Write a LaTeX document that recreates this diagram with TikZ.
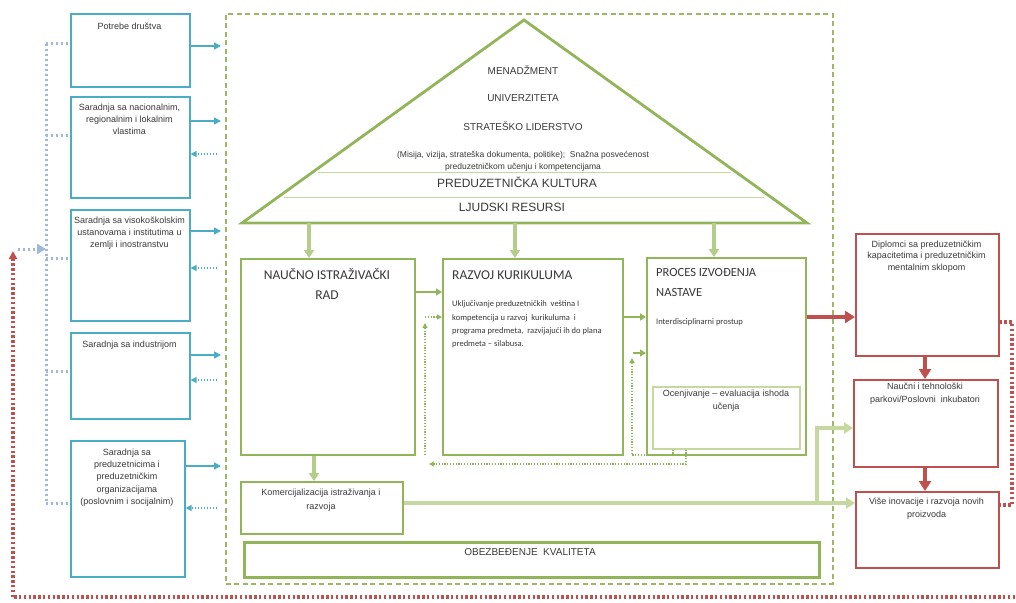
\documentclass[tikz,border=0pt]{standalone}
\usepackage{fontspec}
\setmainfont{Liberation Sans}
\newfontfamily\calfont{Carlito}
\usetikzlibrary{arrows.meta}
\definecolor{cblue}{HTML}{4BACC6}
\definecolor{clblue}{HTML}{A0B8DC}
\definecolor{cgreen}{HTML}{92B55A}
\definecolor{cdash}{HTML}{9DB862}
\definecolor{clgreen}{HTML}{C4D89F}
\definecolor{cmgreen}{HTML}{B4CD8A}
\definecolor{cred}{HTML}{C0504D}
\definecolor{ctext}{HTML}{383838}
\begin{document}
\begin{tikzpicture}[x=1pt,y=-1pt,
  every node/.style={inner sep=0pt, text=ctext},
  frame/.style={draw, anchor=north west, inner sep=0pt},
  bluebox/.style={frame, draw=cblue, line width=1.6pt},
  greenbox/.style={frame, draw=cgreen, line width=1.8pt},
  redbox/.style={frame, draw=cred, line width=1.6pt},
  btxt/.style={anchor=north, align=center, font=\fontsize{9}{12.4}\selectfont},
  rtxt/.style={anchor=north, align=center, font=\fontsize{9}{13}\selectfont},
  ttxt/.style={anchor=base, font=\fontsize{10}{12}\selectfont},
  ctitle/.style={font=\calfont\fontsize{13.5}{20}\selectfont},
  barr/.style={draw=cblue, line width=1.5pt, -{Triangle[length=7pt,width=7pt]}},
  bback/.style={draw=cblue, line width=1.8pt, dash pattern=on 1.2pt off 1.8pt, -{Triangle[length=6pt,width=6pt]}},
  ldot/.style={draw=clblue, line width=3pt, dash pattern=on 2.3pt off 2.7pt},
  rdot/.style={draw=cred, line width=3.2pt, dash pattern=on 2.4pt off 2.4pt},
  garrow/.style={draw=cmgreen, line width=3.5pt, -{Triangle[length=8pt,width=10pt]}},
  lgarr/.style={draw=clgreen, line width=3.5pt, -{Triangle[length=9pt,width=11pt]}},
  gsol/.style={draw=cgreen, line width=1.6pt, -{Triangle[length=6pt,width=7pt]}},
  gdot/.style={draw=cgreen, line width=1.5pt, dash pattern=on 1.3pt off 1.5pt},
  gdotarr/.style={gdot, -{Triangle[length=5pt,width=5pt]}},
  rarr/.style={draw=cred, line width=3.5pt, -{Triangle[length=10pt,width=12pt]}}
]
\useasboundingbox (0,0) rectangle (1016,602);

% outer dashed frame
\node[frame, draw=cdash, line width=1.6pt, dash pattern=on 5pt off 3.5pt,
      minimum width=607, minimum height=570] (outer) at (225,13) {};

% ---------- left blue boxes ----------
\node[bluebox, minimum width=119, minimum height=73]  (b1) at (70,13) {};
\node[bluebox, minimum width=119, minimum height=101] (b2) at (70,96) {};
\node[bluebox, minimum width=119, minimum height=111] (b3) at (70,209) {};
\node[bluebox, minimum width=119, minimum height=86]  (b4) at (70,332) {};
\node[bluebox, minimum width=114, minimum height=136] (b5) at (70,440) {};

\node[btxt] (t1) at (129.5,20.3) {\strut Potrebe društva};
\node[btxt] (t2) at (129.5,101.3) {\strut Saradnja sa nacionalnim,\\regionalnim i lokalnim\\vlastima};
\node[btxt] (t3) at (129.5,214.3) {\strut Saradnja sa visokoškolskim\\ustanovama i institutima u\\zemlji i inostranstvu};
\node[btxt] (t4) at (129.5,338.3) {\strut Saradnja sa industrijom};
\node[btxt] (t5) at (127,446.3) {\strut Saradnja sa\\preduzetnicima i\\preduzetničkim\\organizacijama\\(poslovnim i socijalnim)};

% ---------- right red boxes ----------
\node[redbox, minimum width=143, minimum height=122] (dpl) at (855,233) {};
\node[redbox, minimum width=144, minimum height=87]  (nau) at (853,379) {};
\node[redbox, minimum width=143, minimum height=76]  (vis) at (855,491) {};

\node[anchor=north, align=center, font=\fontsize{9}{11.6}\selectfont] (dplt) at (926.5,239) {\strut Diplomci sa preduzetničkim\\kapacitetima i preduzetničkim\\mentalnim sklopom};
\node[rtxt] (naut) at (925,380) {\strut Naučni i tehnološki\\parkovi/Poslovni\ \ inkubatori};
\node[rtxt] (vist) at (926.5,494.8) {\strut Više inovacije i razvoja novih\\proizvoda};

% blue solid arrows into the frame
\coordinate (p1) at (221,46);
\coordinate (p2) at (221,121);
\coordinate (p3) at (221,231);
\coordinate (p4) at (221,355);
\coordinate (p5) at (221,466);
\draw[barr] (b1.east |- p1) -- (p1);
\draw[barr] (b2.east |- p2) -- (p2);
\draw[barr] (b3.east |- p3) -- (p3);
\draw[barr] (b4.east |- p4) -- (p4);
\draw[barr] (b5.east |- p5) -- (p5);

% blue dotted back arrows
\coordinate (q2) at (217,154);
\coordinate (q3) at (217,268);
\coordinate (q4) at (217,380);
\coordinate (q5) at (217,508);
\draw[bback] (q2) -- (b2.east |- q2);
\draw[bback] (q3) -- (b3.east |- q3);
\draw[bback] (q4) -- (b4.east |- q4);
\draw[bback] (q5) -- (b5.east |- q5);

% light blue dotted bus
\coordinate (bus1) at (46,44);
\coordinate (bus2) at (46,135);
\coordinate (bus3) at (46,258);
\coordinate (bus4) at (46,371);
\coordinate (bus5) at (46,503);
\coordinate (busin) at (46,249);
\draw[ldot] (bus1) -- (bus5);
\draw[ldot] (bus1) -- (b1.west |- bus1);
\draw[ldot] (bus2) -- (b2.west |- bus2);
\draw[ldot] (bus3) -- (b3.west |- bus3);
\draw[ldot] (bus4) -- (b4.west |- bus4);
\draw[ldot] (bus5) -- (b5.west |- bus5);

% red dotted loop
\coordinate (rA) at (1012,322);
\coordinate (rB) at (1012,505);
\coordinate (rC) at (1015,597);
\coordinate (rD) at (13,597);
\coordinate (rE) at (13,251);
\coordinate (rF) at (18,249);
\draw[rdot] (dpl.east |- rA) -- (rA) -- (rB) -- (vis.east |- rB);
\draw[rdot] (rC) -- (rD);
\draw[rdot, -{Triangle[length=8pt,width=8pt]}] (rD) -- (rE);
\draw[ldot, -{Triangle[length=9pt,width=10pt]}] (rF) -- (busin);

% ---------- triangle ----------
\coordinate (tl) at (242,223);
\coordinate (tt) at (524,20);
\coordinate (tr) at (807,223);
\draw[draw=cgreen, line width=2.8pt, line join=miter] (tl) -- (tt) -- (tr) -- cycle;
\draw[draw=clgreen, line width=0.8pt] (318,172) -- (731,172);
\draw[draw=clgreen, line width=0.8pt] (284,197) -- (764,197);

\node[ttxt] (m1) at (523,74.8) {MENADŽMENT};
\node[ttxt] (m2) at (523,101.8) {UNIVERZITETA};
\node[ttxt] (m3) at (523,130.6) {STRATEŠKO LIDERSTVO};
\node[anchor=base, font=\fontsize{8.5}{10}\selectfont] (m4) at (523,157.5) {(Misija, vizija, strateška dokumenta, politike);\ \ Snažna posvećenost};
\node[anchor=base, font=\fontsize{8.5}{10}\selectfont] (m5) at (523,169.8) {preduzetničkom učenju i kompetencijama};
\node[anchor=base, font=\fontsize{12}{14}\selectfont] (m6) at (517,187.8) {PREDUZETNIČKA KULTURA};
\node[anchor=base, font=\fontsize{12}{14}\selectfont] (m7) at (512,211.8) {LJUDSKI RESURSI};

% ---------- central boxes ----------
\node[greenbox, minimum width=174, minimum height=196] (nir) at (240,258) {};
\node[greenbox, minimum width=180, minimum height=196] (rk)  at (442,258) {};
\node[greenbox, minimum width=159, minimum height=197] (pin) at (646,257) {};
\node[frame, draw=clgreen, line width=1.6pt, minimum width=147, minimum height=62] (oc) at (652,386) {};
\node[greenbox, minimum width=162, minimum height=52] (kom) at (240,481) {};
\node[frame, draw=cgreen, line width=3pt, minimum width=575, minimum height=35] (ob) at (243,541) {};

\node[ctitle, anchor=north, align=center] (nirt) at (327,265.3) {\strut NAUČNO ISTRAŽIVAČKI\\RAD};
\node[ctitle, anchor=base west] (rkt) at (452,279.3) {RAZVOJ KURIKULUMA};
\node[anchor=north west, align=left, font=\calfont\fontsize{8.5}{13.4}\selectfont] (rkb) at (452,297.2)
  {\strut Uključivanje preduzetničkih\ \ veština I\\kompetencija u razvoj\ \ kurikuluma\ \ i\\programa predmeta,\ \ razvijajući ih do plana\\predmeta – silabusa.};
\node[anchor=north west, align=left, font=\calfont\fontsize{12.5}{19.4}\selectfont] (pint) at (656,263.1) {\strut PROCES IZVOĐENJA\\NASTAVE};
\node[anchor=base west, font=\calfont\fontsize{8.5}{10}\selectfont] (pinb) at (656,324.2) {Interdisciplinarni prostup};
\node[rtxt] (oct) at (726,386.8) {\strut Ocenjivanje – evaluacija ishoda\\učenja};
\node[anchor=north, align=center, font=\fontsize{9}{14}\selectfont] (komt) at (321,485) {\strut Komercijalizacija istraživanja i\\razvoja};
\node[anchor=base, font=\fontsize{10}{12}\selectfont] (obt) at (530,555) {OBEZBEĐENJE\ \ KVALITETA};

% triangle -> boxes
\coordinate (a1) at (309,223);
\coordinate (a2) at (515,223);
\coordinate (a3) at (714,223);
\draw[garrow] (a1) -- (nir.north -| a1);
\draw[garrow] (a2) -- (rk.north -| a2);
\draw[garrow] (a3) -- (pin.north -| a3);

% box to box
\coordinate (nr) at (428,292);
\coordinate (fa5) at (425,317);
\draw[gsol] (nir.east |- nr) -- (rk.west |- nr);
\draw[gsol] (rk.east |- fa5) -- (pin.west |- fa5);
\coordinate (nk) at (314,470);
\draw[garrow] (nir.south -| nk) -- (kom.north -| nk);

% green dotted feedback
\coordinate (fa1) at (686,464);
\coordinate (fa2) at (429,464);
\coordinate (fa3) at (425,455);
\coordinate (fa4) at (425,323);
\draw[gdotarr] (oc.south -| fa1) -- (fa1) -- (fa2);
\draw[gdotarr] (fa3) -- (fa4);
\draw[gdotarr] (fa5) -- (rk.west |- fa5);
\coordinate (fb1) at (673,455);
\coordinate (fb2) at (632,455);
\coordinate (fb3) at (632,358);
\coordinate (fb4) at (633,353);
\draw[gdotarr] (oc.south -| fb1) -- (fb1) -- (fb2) -- (fb3);
\draw[gsol, line width=1.3pt] (fb4) -- (pin.west |- fb4);

% commercialisation line
\coordinate (kb) at (817,503);
\coordinate (kc) at (817,428);
\draw[lgarr] (kom.east |- kb) -- (vis.west |- kb);
\draw[lgarr] (kb) -- (kc) -- (nau.west |- kc);

% red arrows
\coordinate (pd) at (830,317);
\coordinate (dx) at (925,360);
\draw[rarr] (pin.east |- pd) -- (dpl.west |- pd);
\draw[rarr] (dpl.south -| dx) -- (nau.north -| dx);
\draw[rarr] (nau.south -| dx) -- (vis.north -| dx);
\end{tikzpicture}
\end{document}
